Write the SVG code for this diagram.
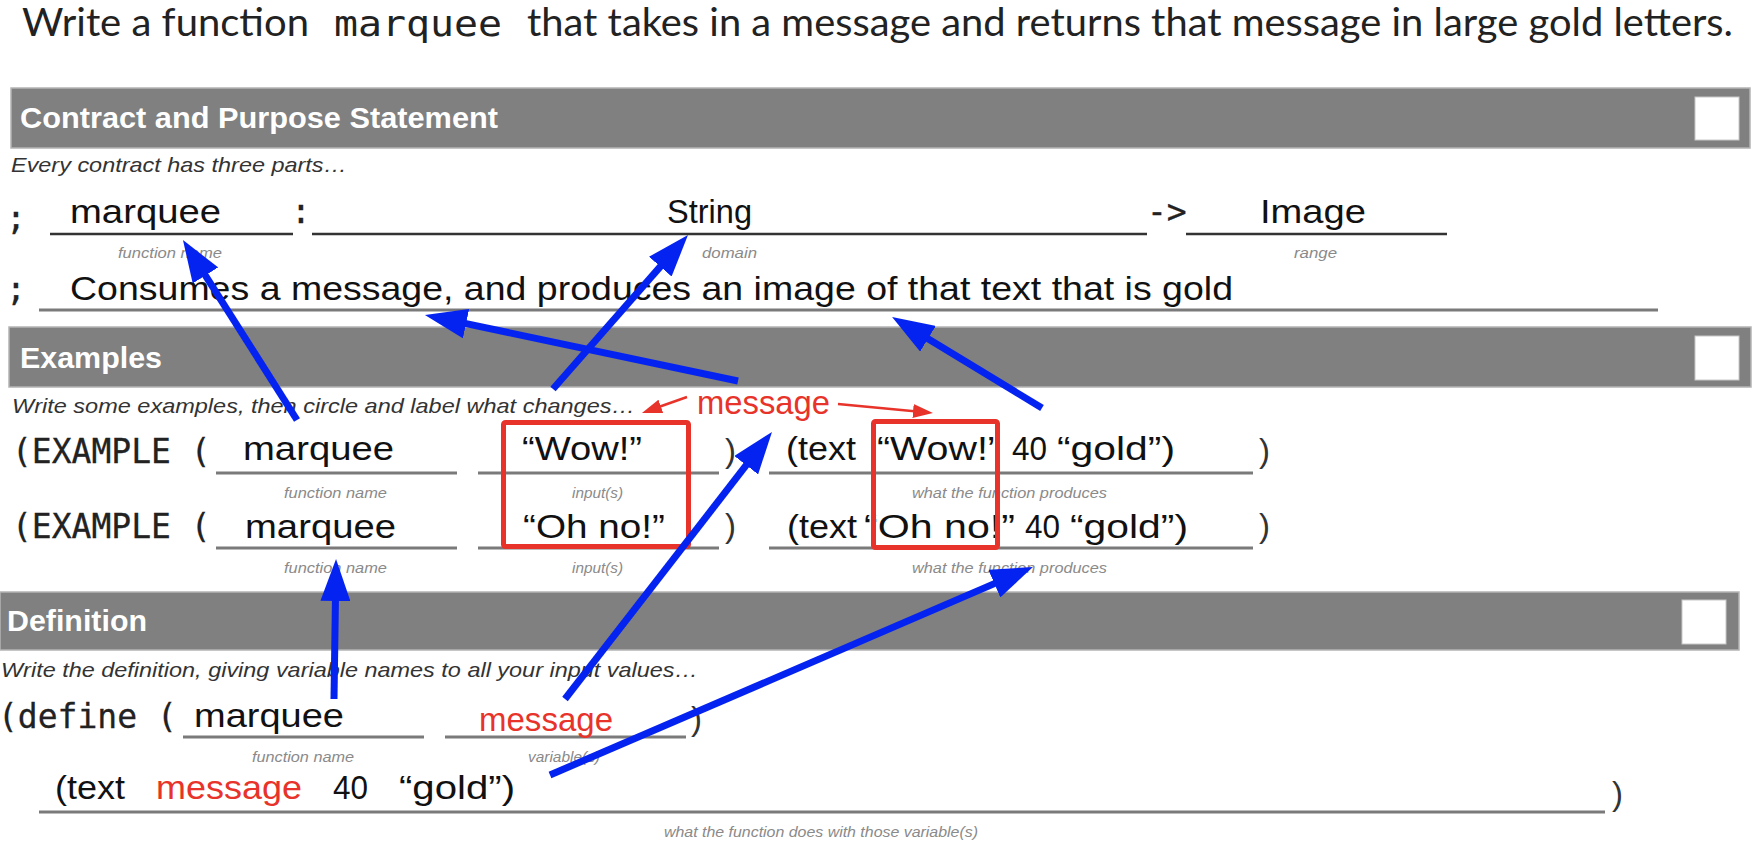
<svg xmlns="http://www.w3.org/2000/svg" width="1754" height="858" viewBox="0 0 1754 858">
<defs>
<style>
.hand{font-family:"Liberation Sans",Arial,sans-serif;font-size:33px;fill:#111}
.mono{font-family:"DejaVu Sans Mono","Liberation Mono",monospace;font-size:33px;fill:#222;stroke:#222;stroke-width:0.3}
.lbl{font-family:"Liberation Sans",Arial,sans-serif;font-style:italic;font-size:14px;fill:#8a8a8a}
.instr{font-family:"Liberation Sans",Arial,sans-serif;font-style:italic;font-size:21px;fill:#333}
.bar{fill:#808080;stroke:#b4b4b4;stroke-width:1.5}
.barT{font-family:"Liberation Sans",Arial,sans-serif;font-weight:bold;font-size:30px;fill:#fff}
.chk{fill:#fff;stroke:#c8c8c8;stroke-width:1}
.ul{stroke:#333;stroke-width:2.5}
.ul2{stroke:#7a7a7a;stroke-width:3}
.redT{font-family:"Liberation Sans",Arial,sans-serif;font-size:33px;fill:#e8332a}
.rbox{fill:none;stroke:#e8332a;stroke-width:5}
.blue{stroke:#0523f0;stroke-width:7;fill:none}
.redA{stroke:#e8332a;stroke-width:2.5;fill:none}
.paren{font-family:"Liberation Sans",Arial,sans-serif;font-size:33px;fill:#333}
</style>
<marker id="bh" markerUnits="userSpaceOnUse" markerWidth="42" markerHeight="30" refX="12" refY="15" orient="auto">
<path d="M0,0 L42,15 L0,30 z" fill="#0523f0"/>
</marker>
<marker id="rh" markerUnits="userSpaceOnUse" markerWidth="20" markerHeight="14" refX="12" refY="7" orient="auto">
<path d="M0,0 L20,7 L0,14 z" fill="#e8332a"/>
</marker>
</defs>
<rect width="1754" height="858" fill="#fff"/>

<g id="title">
<text x="22" y="36" font-family="Lato,'Liberation Sans',sans-serif" font-size="38" fill="#222" textLength="287" lengthAdjust="spacingAndGlyphs">Write a function</text>
<text x="334" y="36" font-family="'DejaVu Sans Mono','Liberation Mono',monospace" font-size="36" fill="#222" textLength="168" lengthAdjust="spacingAndGlyphs">marquee</text>
<text x="527" y="36" font-family="Lato,'Liberation Sans',sans-serif" font-size="38" fill="#222" textLength="1206" lengthAdjust="spacingAndGlyphs">that takes in a message and returns that message in large gold letters.</text>
</g>

<g id="contract-section">
<rect class="bar" x="11" y="88" width="1739" height="60"/>
<rect class="chk" x="1695" y="97" width="44" height="43"/>
<text class="barT" x="20" y="128" textLength="478" lengthAdjust="spacingAndGlyphs">Contract and Purpose Statement</text>
<text class="instr" x="11" y="172" textLength="336" lengthAdjust="spacingAndGlyphs">Every contract has three parts…</text>
</g>

<g id="contract-line">
<text class="mono" x="6" y="229">;</text>
<line class="ul" x1="50" y1="234" x2="293" y2="234"/>
<text class="hand" x="70" y="223" textLength="151" lengthAdjust="spacingAndGlyphs">marquee</text>
<text class="mono" x="291" y="223">:</text>
<line class="ul" x1="312" y1="234" x2="1147" y2="234"/>
<text class="hand" x="667" y="223" textLength="85" lengthAdjust="spacingAndGlyphs">String</text>
<text class="mono" x="1147" y="223">-&gt;</text>
<line class="ul" x1="1186" y1="234" x2="1447" y2="234"/>
<text class="hand" x="1260" y="223" textLength="106" lengthAdjust="spacingAndGlyphs">Image</text>
<text class="lbl" x="118" y="258" textLength="104" lengthAdjust="spacingAndGlyphs">function name</text>
<text class="lbl" x="702" y="258" textLength="55" lengthAdjust="spacingAndGlyphs">domain</text>
<text class="lbl" x="1294" y="258" textLength="43" lengthAdjust="spacingAndGlyphs">range</text>
</g>

<g id="purpose-line">
<text class="mono" x="6" y="300">;</text>
<line class="ul2" x1="39" y1="310" x2="1658" y2="310"/>
<text class="hand" x="70" y="300" textLength="1163" lengthAdjust="spacingAndGlyphs">Consumes a message, and produces an image of that text that is gold</text>
</g>

<g id="examples-section">
<rect class="bar" x="9" y="327" width="1742" height="60"/>
<rect class="chk" x="1695" y="336" width="44" height="44"/>
<text class="barT" x="20" y="368" textLength="142" lengthAdjust="spacingAndGlyphs">Examples</text>
<text class="instr" x="12" y="413" textLength="623" lengthAdjust="spacingAndGlyphs">Write some examples, then circle and label what changes…</text>
</g>

<g id="example-1">
<text class="mono" x="12" y="463">(EXAMPLE (</text>
<line class="ul2" x1="216" y1="473" x2="457" y2="473"/>
<text class="hand" x="243" y="460" textLength="151" lengthAdjust="spacingAndGlyphs">marquee</text>
<line class="ul2" x1="478" y1="473" x2="719" y2="473"/>
<text class="hand" x="522" y="460" textLength="120" lengthAdjust="spacingAndGlyphs">“Wow!”</text>
<text class="paren" x="725" y="462">)</text>
<line class="ul2" x1="769" y1="473" x2="1253" y2="473"/>
<text class="hand" x="786" y="460" textLength="70" lengthAdjust="spacingAndGlyphs">(text</text>
<text class="hand" x="877" y="460" textLength="124" lengthAdjust="spacingAndGlyphs">“Wow!”</text>
<text class="hand" x="1012" y="460" textLength="35" lengthAdjust="spacingAndGlyphs">40</text>
<text class="hand" x="1057" y="460" textLength="118" lengthAdjust="spacingAndGlyphs">“gold”)</text>
<text class="paren" x="1259" y="462">)</text>
<text class="lbl" x="284" y="498" textLength="103" lengthAdjust="spacingAndGlyphs">function name</text>
<text class="lbl" x="572" y="498" textLength="51" lengthAdjust="spacingAndGlyphs">input(s)</text>
<text class="lbl" x="912" y="498" textLength="195" lengthAdjust="spacingAndGlyphs">what the function produces</text>
</g>

<g id="example-2">
<text class="mono" x="12" y="538">(EXAMPLE (</text>
<line class="ul2" x1="216" y1="548" x2="457" y2="548"/>
<text class="hand" x="245" y="538" textLength="151" lengthAdjust="spacingAndGlyphs">marquee</text>
<line class="ul2" x1="478" y1="548" x2="719" y2="548"/>
<text class="hand" x="523" y="538" textLength="142" lengthAdjust="spacingAndGlyphs">“Oh no!”</text>
<text class="paren" x="725" y="537">)</text>
<line class="ul2" x1="769" y1="548" x2="1253" y2="548"/>
<text class="hand" x="787" y="538" textLength="70" lengthAdjust="spacingAndGlyphs">(text</text>
<text class="hand" x="864" y="538" textLength="151" lengthAdjust="spacingAndGlyphs">“Oh no!”</text>
<text class="hand" x="1025" y="538" textLength="35" lengthAdjust="spacingAndGlyphs">40</text>
<text class="hand" x="1070" y="538" textLength="118" lengthAdjust="spacingAndGlyphs">“gold”)</text>
<text class="paren" x="1259" y="537">)</text>
<text class="lbl" x="284" y="573" textLength="103" lengthAdjust="spacingAndGlyphs">function name</text>
<text class="lbl" x="572" y="573" textLength="51" lengthAdjust="spacingAndGlyphs">input(s)</text>
<text class="lbl" x="912" y="573" textLength="195" lengthAdjust="spacingAndGlyphs">what the function produces</text>
</g>

<g id="circles">
<rect class="rbox" x="503.5" y="422.5" width="185" height="124" rx="2"/>
<rect class="rbox" x="873.5" y="421.5" width="124" height="126" rx="2"/>
<text class="redT" x="697" y="414" textLength="133" lengthAdjust="spacingAndGlyphs">message</text>
</g>

<g id="definition-section">
<rect class="bar" x="0" y="592" width="1739" height="58"/>
<rect class="chk" x="1682" y="600" width="44" height="44"/>
<text class="barT" x="7" y="631" textLength="140" lengthAdjust="spacingAndGlyphs">Definition</text>
<text class="instr" x="1" y="677" textLength="697" lengthAdjust="spacingAndGlyphs">Write the definition, giving variable names to all your input values…</text>
</g>

<g id="define-line">
<text class="mono" x="-2" y="728">(define (</text>
<line class="ul2" x1="183" y1="737" x2="424" y2="737"/>
<text class="hand" x="194" y="727" textLength="150" lengthAdjust="spacingAndGlyphs">marquee</text>
<line class="ul2" x1="445" y1="737" x2="686" y2="737"/>
<text class="redT" x="479" y="731" textLength="134" lengthAdjust="spacingAndGlyphs">message</text>
<text class="paren" x="691" y="730">)</text>
<text class="lbl" x="252" y="762" textLength="102" lengthAdjust="spacingAndGlyphs">function name</text>
<text class="lbl" x="528" y="762" textLength="72" lengthAdjust="spacingAndGlyphs">variable(s)</text>
</g>

<g id="body-line">
<line class="ul2" x1="39" y1="812" x2="1605" y2="812"/>
<text class="hand" x="55" y="799" textLength="70" lengthAdjust="spacingAndGlyphs">(text</text>
<text class="redT" x="156" y="799" textLength="146" lengthAdjust="spacingAndGlyphs">message</text>
<text class="hand" x="333" y="799" textLength="35" lengthAdjust="spacingAndGlyphs">40</text>
<text class="hand" x="399" y="799" textLength="116" lengthAdjust="spacingAndGlyphs">“gold”)</text>
<text class="paren" x="1612" y="805">)</text>
<text class="lbl" x="664" y="837" textLength="314" lengthAdjust="spacingAndGlyphs">what the function does with those variable(s)</text>
</g>

<g id="connectors">
<line class="blue" x1="297" y1="420" x2="199" y2="265.3" marker-end="url(#bh)"/>
<line class="blue" x1="738" y1="381" x2="454.3" y2="321.2" marker-end="url(#bh)"/>
<line class="blue" x1="553" y1="389" x2="668.2" y2="257.6" marker-end="url(#bh)"/>
<line class="blue" x1="1042" y1="408" x2="917.7" y2="332.6" marker-end="url(#bh)"/>
<line class="blue" x1="565" y1="699" x2="753.6" y2="455.7" marker-end="url(#bh)"/>
<line class="blue" x1="550" y1="775" x2="1005.4" y2="578.9" marker-end="url(#bh)"/>
<line class="blue" x1="334" y1="699" x2="335.6" y2="589" marker-end="url(#bh)"/>
<line class="redA" x1="687" y1="397" x2="649.5" y2="410.3" marker-end="url(#rh)"/>
<line class="redA" x1="838" y1="404" x2="925" y2="412.2" marker-end="url(#rh)"/>
</g>
</svg>
